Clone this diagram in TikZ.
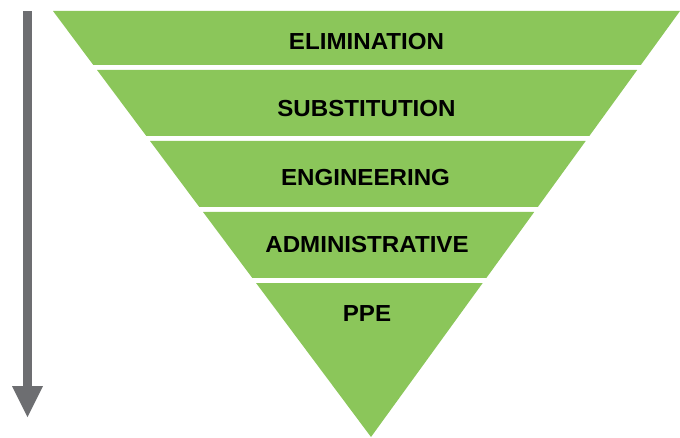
\documentclass[tikz,border=0pt]{standalone}
\usepackage{fontspec}
\setmainfont{Liberation Sans}
\newfontfamily\lblfont{Liberation Sans}[FakeStretch=1.04]
\usetikzlibrary{calc}
\definecolor{bandgreen}{RGB}{139,198,90}
\definecolor{arrowgray}{RGB}{109,110,113}
\begin{document}
\begin{tikzpicture}[x=1pt,y=-1pt,
  band/.style={fill=bandgreen,draw=none},
  label/.style={anchor=base,inner sep=0pt,font=\lblfont\fontsize{23.2}{23.2}\selectfont\bfseries,text=black}]
\useasboundingbox (0,0) rectangle (680,438);
\coordinate (TL) at (53,11);
\coordinate (TR) at (680,11);
\coordinate (B) at (371,437);
% bands
\foreach \ta/\tb in {0/0.12676, 0.13850/0.29343, 0.30516/0.46009, 0.47183/0.62676, 0.63850/1}{
  \fill[band] ($(TL)!\ta!(B)$) -- ($(TR)!\ta!(B)$) -- ($(TR)!\tb!(B)$) -- ($(TL)!\tb!(B)$) -- cycle;
}
% labels
\node[label] (elim) at (366.5,50) {ELIMINATION};
\node[label] (subs) at (366.5,116.5) {SUBSTITUTION};
\node[label] (eng) at (365.5,185.5) {ENGINEERING};
\node[label] (adm) at (367,253) {ADMINISTRATIVE};
\node[label] (ppe) at (367,322) {PPE};
% arrow
\fill[arrowgray] (23,11) rectangle (32,387);
\fill[arrowgray] (12,386) -- (43,386) -- (27.5,417) -- cycle;
\end{tikzpicture}
\end{document}
